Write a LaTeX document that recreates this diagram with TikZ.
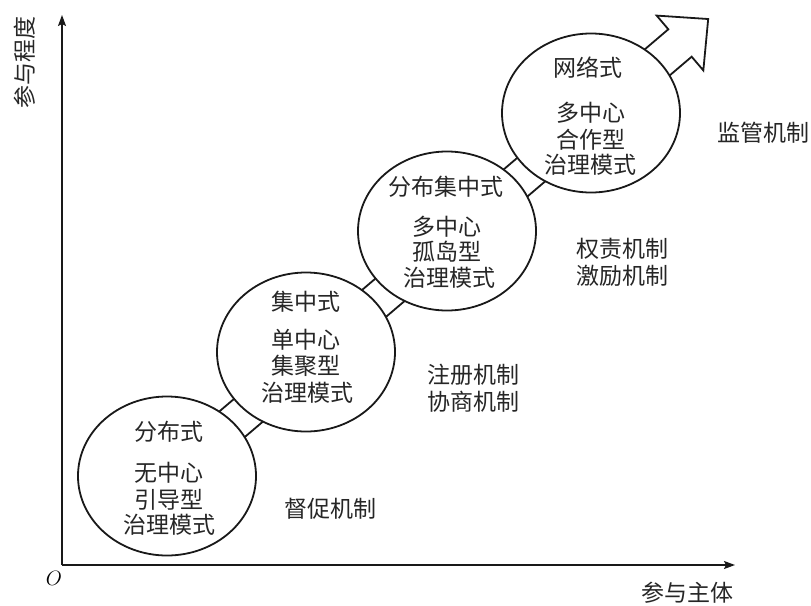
\documentclass[tikz,border=0pt]{standalone}
\usepackage{fontspec}
\newfontfamily\cjk{Noto Sans CJK SC}
\usetikzlibrary{shapes.geometric,arrows.meta}
\begin{document}
\begin{tikzpicture}[x=1pt,y=-1pt,
  stage/.style={ellipse,draw=black!90,line width=1.8pt,fill=white,minimum width=178pt,minimum height=159pt,inner sep=0pt},
  lbl/.style={font=\cjk\fontsize{23}{26}\selectfont,text=black!85,inner sep=0pt,anchor=center},
  axis/.style={line width=1.6pt,draw=black!90,-{Stealth[length=11pt,width=8pt,inset=2pt]}},
  band/.style={line width=1.8pt,draw=black!90,fill=white,line join=miter}]
\useasboundingbox (0,0) rectangle (811,605);
% big arrow band
\begin{scope}[shift={(680,43)},rotate=40.4]
\draw[band] (-660,18) -- (0,18) -- (0,36) -- (37,0) -- (0,-36) -- (0,-18) -- (-660,-18) -- cycle;
\end{scope}
% stages
\node[stage] (c1) at (167,476) {};
\node[stage] (c2) at (306,352) {};
\node[stage] (c3) at (447,231) {};
\node[stage] (c4) at (591,113) {};
% texts in stages
\node[lbl] (t1a) at (169,432) {分布式};
\node[lbl] (t1b) at (169,473) {无中心};
\node[lbl] (t1c) at (169,500) {引导型};
\node[lbl] (t1d) at (169,525) {治理模式};
\node[lbl] (t2a) at (306,302) {集中式};
\node[lbl] (t2b) at (306,340) {单中心};
\node[lbl] (t2c) at (306,366) {集聚型};
\node[lbl] (t2d) at (307,393) {治理模式};
\node[lbl] (t3a) at (446,187) {分布集中式};
\node[lbl] (t3b) at (447,227) {多中心};
\node[lbl] (t3c) at (447,252) {孤岛型};
\node[lbl] (t3d) at (449,278) {治理模式};
\node[lbl] (t4a) at (588,68) {网络式};
\node[lbl] (t4b) at (591,113) {多中心};
\node[lbl] (t4c) at (591,140) {合作型};
\node[lbl] (t4d) at (590,165) {治理模式};
% mechanisms
\node[lbl] (m4) at (763,133) {监管机制};
\node[lbl] (m3a) at (622,249) {权责机制};
\node[lbl] (m3b) at (622,276) {激励机制};
\node[lbl] (m2a) at (473,375) {注册机制};
\node[lbl] (m2b) at (473,402) {协商机制};
\node[lbl] (m1) at (330,509) {督促机制};
% axes
\coordinate (O) at (62,565);
\coordinate (ytip) at (62,15);
\coordinate (xtip) at (735,565);
\draw[axis] (O) -- (ytip);
\draw[axis] (O) -- (xtip);
\node[font=\fontsize{20}{20}\selectfont,inner sep=0pt] (olbl) at (54,578) {$O$};
\node[lbl] (xlbl) at (687,593) {参与主体};
\node[lbl,rotate=90] (ylbl) at (25,62) {参与程度};
\end{tikzpicture}
\end{document}
